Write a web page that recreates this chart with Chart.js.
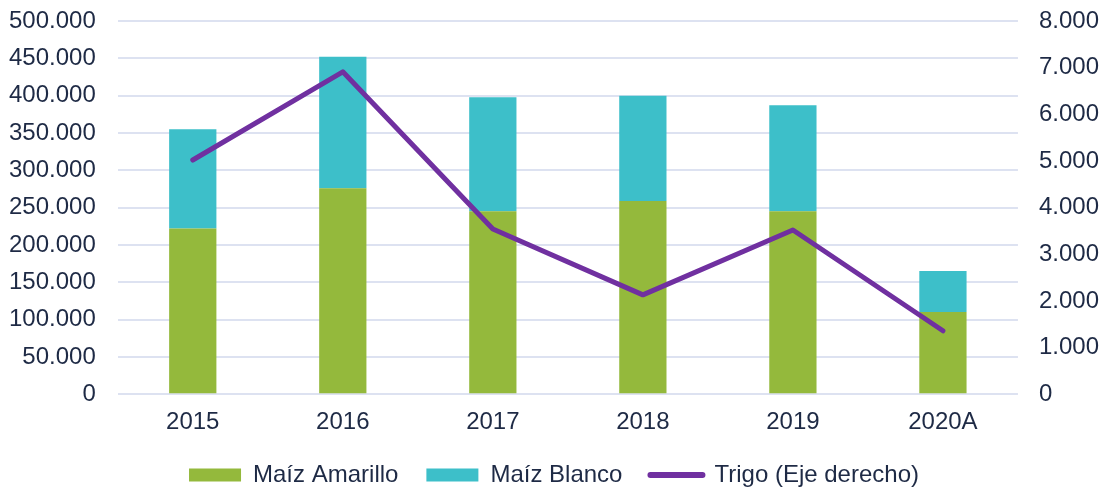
<!DOCTYPE html>
<html>
<head>
<meta charset="utf-8">
<script src="https://cdn.jsdelivr.net/npm/chart.js@4.4.1/dist/chart.umd.min.js"></script>
<style>
  html, body { margin: 0; padding: 0; background: #fff; }
  #wrap { width: 1105px; height: 490px; }
</style>
</head>
<body>
<div id="wrap"><canvas id="chart"></canvas></div>
<script>
const years = ['2015', '2016', '2017', '2018', '2019', '2020A'];
const maizAmarillo = [222000, 276000, 245000, 259000, 245000, 110000];
const maizBlanco = [133000, 176000, 153000, 141000, 142000, 55000];
const trigo = [5020, 6910, 3540, 2130, 3520, 1360];

// separador de miles con punto
const fmt = v => String(v).replace(/\B(?=(\d{3})+(?!\d))/g, '.');

const textColor = '#1e2a45';
Chart.defaults.font.family = '"Liberation Sans", Arial, sans-serif';
Chart.defaults.font.size = 24;
Chart.defaults.color = textColor;

// sube la leyenda un poco, sin tocar el espacio entre items
const legendShift = {
  id: 'legendShift',
  afterLayout(chart) {
    const lg = chart.legend;
    if (!lg) return;
    lg.top -= 16;
    lg.bottom -= 16;
  }
};

new Chart(document.getElementById('chart'), {
  type: 'bar',
  data: {
    labels: years,
    datasets: [
      {
        label: 'Maíz Amarillo',
        data: maizAmarillo,
        backgroundColor: '#94b93c',
        yAxisID: 'y',
        order: 1,
        barPercentage: 0.315,
        categoryPercentage: 1
      },
      {
        label: 'Maíz Blanco',
        data: maizBlanco,
        backgroundColor: '#3dbfc9',
        yAxisID: 'y',
        order: 1,
        barPercentage: 0.315,
        categoryPercentage: 1
      },
      {
        type: 'line',
        label: 'Trigo (Eje derecho)',
        data: trigo,
        borderColor: '#7030a0',
        backgroundColor: '#7030a0',
        borderWidth: 5,
        borderCapStyle: 'round',
        borderJoinStyle: 'round',
        pointRadius: 0,
        yAxisID: 'y1',
        order: 0
      }
    ]
  },
  plugins: [legendShift],
  options: {
    responsive: true,
    maintainAspectRatio: false,
    animation: false,
    layout: { autoPadding: false, padding: { left: 9, right: 6, top: 21, bottom: -23 } },
    scales: {
      x: {
        stacked: true,
        grid: { display: false, drawTicks: false },
        border: { display: false },
        ticks: { padding: 14 }
      },
      y: {
        stacked: true,
        min: 0,
        max: 500000,
        // espacio entre etiqueta y rejilla con tickLength (marca transparente)
        ticks: { stepSize: 50000, padding: 0, callback: v => fmt(v) },
        grid: { color: '#dde2f1', lineWidth: 2, drawTicks: true, tickLength: 22, tickColor: 'transparent' },
        border: { display: false }
      },
      y1: {
        position: 'right',
        min: 0,
        max: 8000,
        ticks: { stepSize: 1000, padding: 0, callback: v => fmt(v) },
        grid: { drawOnChartArea: false, drawTicks: true, tickLength: 21, tickColor: 'transparent' },
        border: { display: false }
      }
    },
    plugins: {
      tooltip: { enabled: false },
      legend: {
        position: 'bottom',
        labels: {
          usePointStyle: true,
          pointStyleWidth: 52,
          boxHeight: 13,
          padding: 28,
          color: textColor,
          sort: (a, b) => a.datasetIndex - b.datasetIndex,
          generateLabels: chart => {
            const items = Chart.defaults.plugins.legend.labels.generateLabels(chart);
            items.forEach(it => {
              if (it.datasetIndex === 2) {
                it.pointStyle = 'line';
                it.lineWidth = 6;
                it.lineCap = 'round';
              } else {
                it.pointStyle = 'rect';
                it.lineWidth = 0;
              }
            });
            return items;
          }
        }
      }
    }
  }
});
</script>
</body>
</html>
